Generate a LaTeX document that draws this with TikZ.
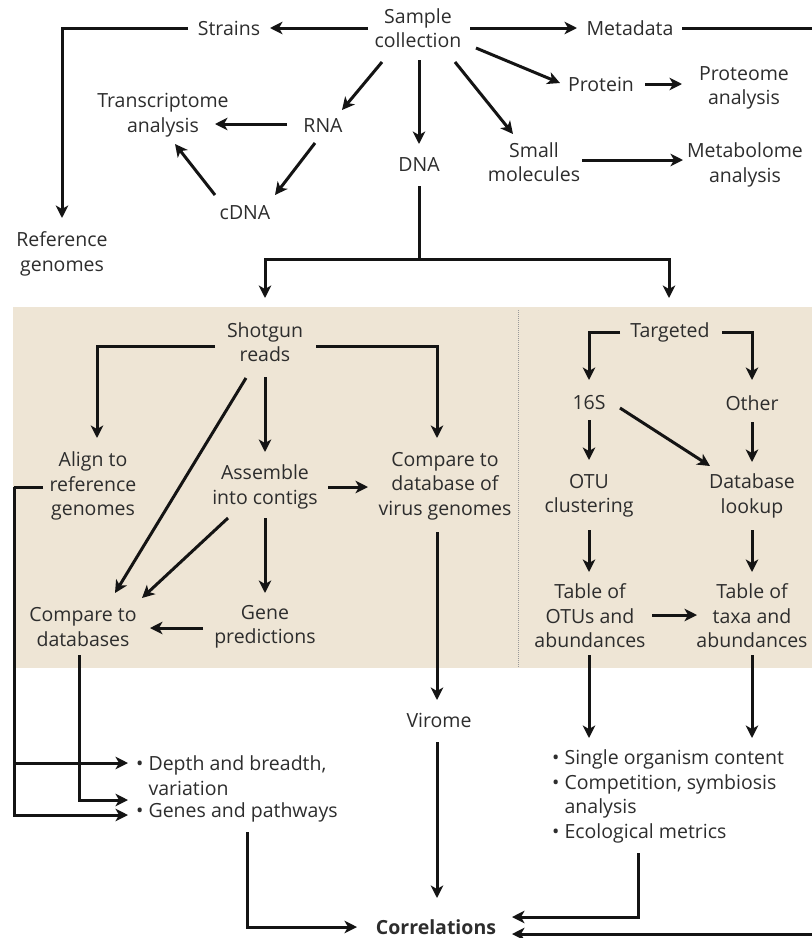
\documentclass[tikz,border=0pt]{standalone}
\usepackage{fontspec}
\setmainfont{Open Sans}
\usetikzlibrary{arrows.meta,calc}
\definecolor{panel}{RGB}{238,229,213}
\definecolor{txt}{RGB}{45,45,45}
\definecolor{ink}{RGB}{20,20,20}
\begin{document}
\begin{tikzpicture}[x=1pt,y=-1pt,
  lbl/.style={font=\fontsize{19.5}{24.5}\selectfont, text=txt, align=center, inner sep=0pt},
  bul/.style={lbl, align=left, anchor=west},
  conn/.style={draw=ink, line width=3pt},
  arr/.style={conn, -{Stealth[length=12.5pt,width=12.5pt,inset=3.5pt]}},
]
\useasboundingbox (0,0) rectangle (812,938);
\fill[white] (0,0) rectangle (812,938);
% panel
\fill[panel] (13,307) rectangle (812,668);
\draw[gray!80, line width=1pt, dash pattern=on 1pt off 1pt] (518,310) -- (518,668);

% top nodes
\node[lbl] (sc) at (418,28) {Sample\\collection};
\node[lbl] (strains) at (229,28) {Strains};
\node[lbl] (meta) at (630,28) {Metadata};
\node[lbl] (refg) at (62,254) {Reference\\genomes};
\node[lbl] (protein) at (601,84) {Protein};
\node[lbl] (proteome) at (744,88) {Proteome\\analysis};
\node[lbl] (rna) at (323,126) {RNA};
\node[lbl] (trans) at (163,115) {Transcriptome\\analysis};
\node[lbl] (cdna) at (245,213) {cDNA};
\node[lbl] (dna) at (419,165) {DNA};
\node[lbl] (small) at (534,162) {Small\\molecules};
\node[lbl] (metab) at (745,165) {Metabolome\\analysis};
\coordinate (split) at (419,259);
\coordinate (metaedge) at (812,28);

% left panel
\node[lbl] (shot) at (265,342) {Shotgun\\reads};
\node[lbl] (align) at (93,486) {Align to\\reference\\genomes};
\node[lbl] (assem) at (265,487) {Assemble\\into contigs};
\node[lbl] (virus) at (445,486) {Compare to\\database of\\virus genomes};
\node[lbl] (cmpdb) at (83,627) {Compare to\\databases};
\node[lbl] (gene) at (265,627) {Gene\\predictions};

% right panel
\node[lbl] (targ) at (670,332) {Targeted};
\node[lbl] (s16) at (589,403) {16S};
\node[lbl] (other) at (752,403) {Other};
\node[lbl] (otu) at (589,496) {OTU\\clustering};
\node[lbl] (dbl) at (752,496) {Database\\lookup};
\node[lbl] (tab1) at (590,616) {Table of\\OTUs and\\abundances};
\node[lbl] (tab2) at (752,616) {Table of\\taxa and\\abundances};

% lower nodes
\node[lbl] (virome) at (439,720) {Virome};
\node[bul] (bd) at (136,775.5) {• Depth and breadth,\\\hphantom{• }variation};
\node[bul] (bg) at (136,812) {• Genes and pathways};
\node[bul] (br) at (552,796.5) {• Single organism content\\• Competition, symbiosis\\\hphantom{• }analysis\\• Ecological metrics};
\node[lbl, font=\fontsize{19.5}{24.5}\selectfont\bfseries] (corr) at (436,927) {Correlations};
\coordinate (trunk) at (14,487);
\coordinate (edgeb) at (812,934);

% top connectors
\draw[arr] ($(sc)+(-50,0)$) -- ($(strains)+(41,0)$);
\draw[arr] ($(strains)+(-41,0)$) -| ($(refg)+(0,-36)$);
\draw[arr] ($(sc)+(52,0)$) -- ($(meta)+(-53,0)$);
\draw[conn] ($(meta)+(52,0)$) -- (metaedge);
\draw[arr] ($(sc)+(58,20)$) -- ($(protein)+(-41,-1)$);
\draw[arr] ($(protein)+(44,0)$) -- ($(proteome)+(-62,-4)$);
\draw[arr] ($(sc)+(-36,34)$) -- ($(rna)+(19,-16)$);
\draw[arr] ($(sc)+(1,32)$) -- ($(dna)+(0,-21)$);
\draw[arr] ($(sc)+(37,34)$) -- ($(small)+(-21,-28)$);
\draw[arr] ($(small)+(48,-2)$) -- ($(metab)+(-62,-5)$);
\draw[arr] ($(rna)+(-36,-2)$) -- ($(trans)+(52,9)$);
\draw[arr] ($(rna)+(-8,17)$) -- ($(cdna)+(30,-18)$);
\draw[arr] ($(cdna)+(-30,-18)$) -- ($(trans)+(12,29)$);
\draw[conn] ($(dna)+(0,21)$) -- (split);
\draw[arr] (split) -| ($(shot)+(0,-44)$);
\draw[arr] (split) -| ($(targ)+(-1,-34)$);

% left panel connectors
\draw[arr] ($(shot)+(-50,4)$) -| ($(align)+(4,-48)$);
\draw[arr] ($(shot)+(51,4)$) -| ($(virus)+(-8,-48)$);
\draw[arr] ($(shot)+(0,35)$) -- ($(assem)+(0,-35)$);
\draw[arr] ($(shot)+(-19,36)$) -- ($(cmpdb)+(32,-34)$);
\draw[arr] ($(assem)+(-37,31)$) -- ($(cmpdb)+(59,-29)$);
\draw[arr] ($(assem)+(63,0)$) -- ($(virus)+(-77,1)$);
\draw[arr] ($(assem)+(0,31)$) -- ($(gene)+(0,-34)$);
\draw[arr] ($(gene)+(-62,1)$) -- ($(cmpdb)+(67,1)$);
\draw[arr] ($(virus)+(-8,46)$) -- ($(virome)+(-2,-20)$);
\draw[arr] ($(virome)+(-2,22)$) -- ($(corr)+(1,-29)$);

% right panel connectors
\draw[arr] ($(targ)+(-50,0)$) -| ($(s16)+(0,-23)$);
\draw[arr] ($(targ)+(52,0)$) -| ($(other)+(0,-23)$);
\draw[arr] ($(s16)+(0,17)$) -- ($(otu)+(0,-36)$);
\draw[arr] ($(other)+(0,19)$) -- ($(dbl)+(0,-34)$);
\draw[arr] ($(s16)+(31,5)$) -- ($(dbl)+(-42,-30)$);
\draw[arr] ($(otu)+(0,34)$) -- ($(tab1)+(-1,-44)$);
\draw[arr] ($(dbl)+(0,34)$) -- ($(tab2)+(0,-44)$);
\draw[arr] ($(tab1)+(62,-1)$) -- ($(tab2)+(-55,-1)$);

% lower connectors
\draw[conn] ($(align)+(-50,1)$) -- (trunk);
\draw[arr] (trunk) |- ($(bd.west)+(-8,-12.5)$);
\draw[arr] (trunk) |- ($(bg.west)+(-8,3)$);
\draw[arr] ($(cmpdb)+(-4,28)$) |- ($(bg.west)+(-8,-12)$);
\draw[arr] ($(bg.west)+(111,20)$) |- ($(corr)+(-79,0)$);
\draw[arr] ($(tab1)+(-1,39)$) -- ($(br.west)+(37,-58.5)$);
\draw[arr] ($(tab2)+(0,39)$) -- ($(br.west)+(200,-58.5)$);
\draw[arr] ($(br.west)+(86,56.5)$) |- ($(corr)+(76,-10)$);
\draw[arr] (edgeb) -- ($(corr)+(76,7)$);
\end{tikzpicture}
\end{document}
